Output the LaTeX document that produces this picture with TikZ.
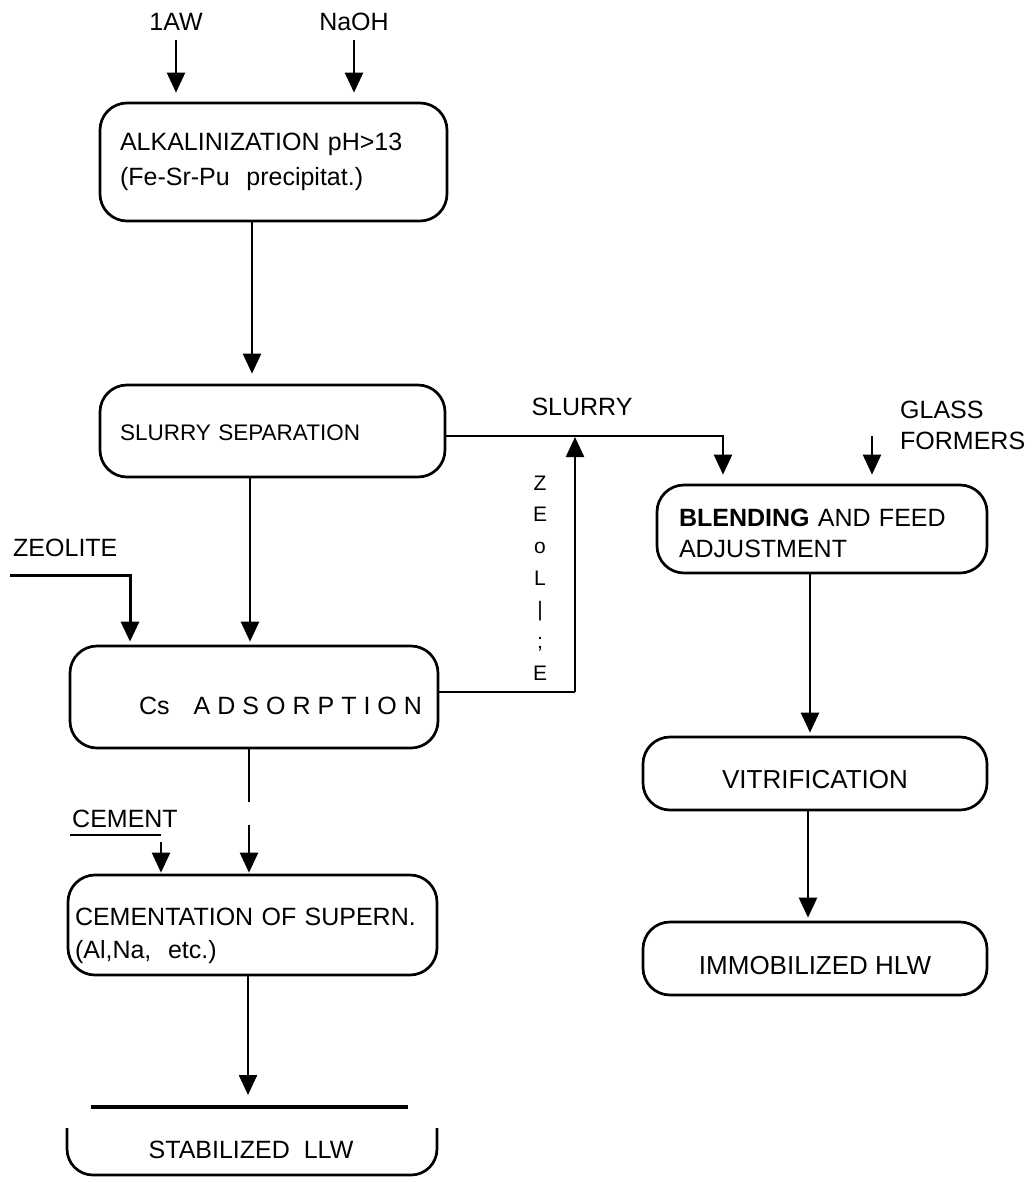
\documentclass[tikz,border=0pt]{standalone}
\usepackage{fontspec}
\setmainfont{Liberation Sans}
\newfontfamily\spacedfont[LetterSpace=28]{Liberation Sans}
\usetikzlibrary{arrows.meta}
\newcommand{\lowerby}[2]{\raisebox{-#1}[\height][\depth]{#2}}
\begin{document}
\begin{tikzpicture}[x=1pt,y=-1pt,
  box/.style={draw,line width=2.7pt,rounded corners=27pt,inner sep=0pt},
  lab/.style={inner sep=0pt,font=\fontsize{25}{31}\selectfont},
  arr/.style={line width=2.4pt,-{Triangle[width=18pt,length=20pt]},shorten >=3pt},
  ln/.style={line width=2.4pt}]
\useasboundingbox (0,0) rectangle (1031,1178);

% boxes
\node[box,minimum width=347pt,minimum height=118pt,text width=307pt,align=left,
  font=\fontsize{25}{35}\selectfont] (alk) at (273.5,162)
  {ALKALINIZATION pH>13\\(Fe-Sr-Pu\ \ precipitat.)};
\node[box,minimum width=345pt,minimum height=92pt,text width=305pt,align=left,
  font=\fontsize{22.5}{26}\selectfont] (slsep) at (272.5,431) {\lowerby{2pt}{SLURRY SEPARATION}};
\node[box,minimum width=368pt,minimum height=102pt,text width=336pt,align=right,
  font=\fontsize{25}{30}\selectfont] (cs) at (254,697)
  {\lowerby{9pt}{Cs\hspace{24pt}{\spacedfont ADSORPTION}}};
\node[box,minimum width=369pt,minimum height=100pt,text width=355pt,align=left,
  font=\fontsize{25}{33}\selectfont] (cem) at (252.5,925)
  {\lowerby{10pt}{\begin{tabular}{@{}l@{}}CEMENTATION OF SUPERN.\\(Al,Na,\ \ etc.)\end{tabular}}};
\node[box,minimum width=330pt,minimum height=88pt,text width=286pt,align=left,
  font=\fontsize{25}{31}\selectfont] (blend) at (822,529)
  {\lowerby{7pt}{\begin{tabular}{@{}l@{}}\textbf{BLENDING} AND FEED\\ADJUSTMENT\end{tabular}}};
\node[box,minimum width=344pt,minimum height=73pt,
  font=\fontsize{26}{30}\selectfont] (vitr) at (815,773.5) {\lowerby{6pt}{VITRIFICATION}};
\node[box,minimum width=344pt,minimum height=73pt,
  font=\fontsize{26}{30}\selectfont] (immob) at (815,958.5) {\lowerby{7pt}{IMMOBILIZED HLW}};

% labels
\node[lab] (iaw) at (176,22) {1AW};
\node[lab] (naoh) at (354,22) {NaOH};
\node[lab] (slab) at (582,407) {SLURRY};
\node[lab,anchor=west] (zlab) at (13,548) {ZEOLITE};
\node[lab,anchor=west] (clab) at (72,819) {CEMENT};
\node[lab,anchor=west,align=left] (glab) at (900,425) {GLASS\\FORMERS};
\node[inner sep=0pt,align=center,font=\fontsize{21}{31.7}\selectfont] (zv) at (540,578)
  {Z\\E\\o\\L\\|\\;\\E};
\node[lab,font=\fontsize{25}{30}\selectfont] (llw) at (251,1150) {STABILIZED\ \ LLW};

% coordinates
\coordinate (sj) at (723,436);
\coordinate (zj) at (575,692);
\coordinate (zs) at (10,575);
\coordinate (zc) at (130,575);
\coordinate (g1) at (249,802);
\coordinate (g2) at (249,825);
\coordinate (u1) at (70,835);
\coordinate (u2) at (161,835);
\coordinate (gf) at (872,436);
\coordinate (l1) at (91,1107);
\coordinate (l2) at (408,1107);
\coordinate (la) at (248,1095);

% connectors
\draw[arr,shorten >=9pt] ([yshift=-9pt]iaw.south) -- (iaw.south |- alk.north);
\draw[arr,shorten >=9pt] ([yshift=-9pt]naoh.south) -- (naoh.south |- alk.north);
\draw[arr,shorten >=10pt] ([xshift=-21.5pt]alk.south) -- ([xshift=-20.5pt]slsep.north);
\draw[arr,shorten >=9pt] ([yshift=-5pt]slsep.east) -- (sj) -- (sj |- blend.north);
\draw[arr,shorten >=9pt] (gf) -- (gf |- blend.north);
\draw[arr] ([xshift=-22.5pt]slsep.south) -- ([xshift=-4pt]cs.north);
\draw[ln] ([yshift=5pt]cs.east) -- (zj);
\draw[arr,shorten >=1pt] (zj) -- (zj |- sj);
\draw[arr,line width=3pt] (zs) -- (zc) -- (zc |- cs.north);
\draw[ln] (cs.south -| g1) -- (g1);
\draw[arr,shorten >=1pt] (g2) -- (g2 |- cem.north);
\draw[ln] (u1) -- (u2);
\draw[arr,shorten >=1pt] ([yshift=-7pt]u2) -- (u2 |- cem.north);
\draw[arr,shorten >=0pt] (cem.south -| la) -- (la);
\draw[line width=4pt] (l1) -- (l2);
\draw[line width=2.7pt,rounded corners=26pt] (67,1128) -- (67,1175) -- (437,1175) -- (437,1128);
\draw[arr] ([xshift=-12pt]blend.south) -- ([xshift=-5pt]vitr.north);
\draw[arr] ([xshift=-7pt]vitr.south) -- ([xshift=-7pt]immob.north);
\end{tikzpicture}
\end{document}
